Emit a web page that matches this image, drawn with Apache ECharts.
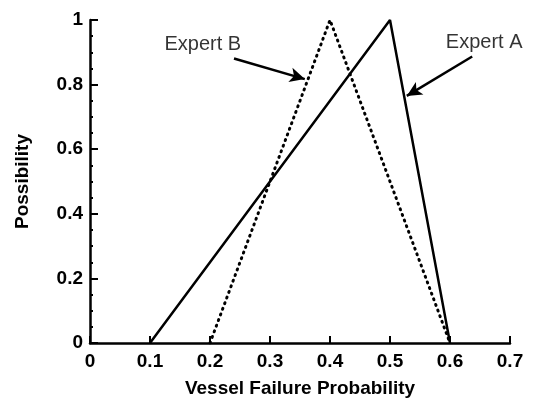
<!DOCTYPE html>
<html>
<head>
<meta charset="utf-8">
<style>html,body{margin:0;padding:0;background:#fff}#c{width:538px;height:403px}</style>
<script src="https://cdn.jsdelivr.net/npm/echarts@6/dist/echarts.min.js"></script>
</head>
<body>
<div id="c"></div>
<script>
var expertA = [[0.1, 0], [0.5, 1], [0.6, 0]];
var expertB = [[0.2, 0], [0.4, 1], [0.6, 0]];
var noteLabels = [[0.188, 0.924, 'Expert B'], [0.657, 0.93, 'Expert A']];
var arrowB = [[0.24, 0.881], [0.358, 0.817]];
var arrowA = [[0.637, 0.887], [0.528, 0.765]];
var xTicks = [0, 0.1, 0.2, 0.3, 0.4, 0.5, 0.6, 0.7];
var yTicks = [0, 0.2, 0.4, 0.6, 0.8, 1];

var FONT = 'Liberation Sans, Arial, sans-serif';
var chart = echarts.init(document.getElementById('c'), null, {renderer: 'canvas'});
function arrowLine(seg) {
  return {
    silent: true,
    symbol: ['none', 'arrow'],
    symbolSize: [11, 15],
    label: {show: false},
    lineStyle: {color: '#000', width: 2.5, type: 'solid'},
    data: [[{coord: seg[0]}, {coord: seg[1]}]]
  };
}
chart.setOption({
  animation: false,
  grid: {left: 90, right: 28, top: 20, bottom: 56},
  xAxis: {
    type: 'value', min: 0, max: 0.7, interval: 0.1,
    name: 'Vessel Failure Probability', nameLocation: 'middle', nameGap: 36,
    nameTextStyle: {fontFamily: FONT, fontWeight: 'bold', fontSize: 19, color: '#000'},
    axisLine: {show: true, lineStyle: {color: '#000', width: 2.5}},
    axisTick: {show: true, inside: true, length: 7, lineStyle: {color: '#000', width: 2}},
    axisLabel: {fontFamily: FONT, fontWeight: 'bold', fontSize: 19, color: '#000', margin: 9,
      formatter: function (v) { var s = xTicks.filter(function (t) { return Math.abs(t - v) < 1e-9; }); return s.length ? String(s[0]) : ''; }},
    splitLine: {show: false}
  },
  yAxis: {
    type: 'value', min: 0, max: 1, interval: 0.2,
    name: 'Possibility', nameLocation: 'middle', nameGap: 58,
    nameTextStyle: {fontFamily: FONT, fontWeight: 'bold', fontSize: 19, color: '#000'},
    axisLine: {show: true, lineStyle: {color: '#000', width: 2.5}},
    axisTick: {show: true, inside: true, length: 8, lineStyle: {color: '#000', width: 2}},
    minorTick: {show: true, splitNumber: 4, length: 3, lineStyle: {color: '#000', width: 2}},
    axisLabel: {fontFamily: FONT, fontWeight: 'bold', fontSize: 19, color: '#000', margin: 7,
      formatter: function (v) { var s = yTicks.filter(function (t) { return Math.abs(t - v) < 1e-9; }); return s.length ? String(s[0]) : ''; }},
    splitLine: {show: false}
  },
  series: [
    {
      name: 'Expert A', type: 'line', data: expertA, symbol: 'none',
      lineStyle: {color: '#000', width: 2.5},
      markLine: arrowLine(arrowA)
    },
    {
      name: 'Expert B', type: 'line', data: expertB, symbol: 'none',
      lineStyle: {color: '#000', width: 3, type: [1, 5], cap: 'round'},
      markLine: arrowLine(arrowB)
    },
    {
      name: 'notes', type: 'scatter', data: noteLabels, symbolSize: 0, silent: true,
      label: {show: true, position: 'inside', formatter: function (p) { return p.data[2]; },
        fontFamily: FONT, fontSize: 20, color: '#000'}
    }
  ]
});
</script>
</body>
</html>
